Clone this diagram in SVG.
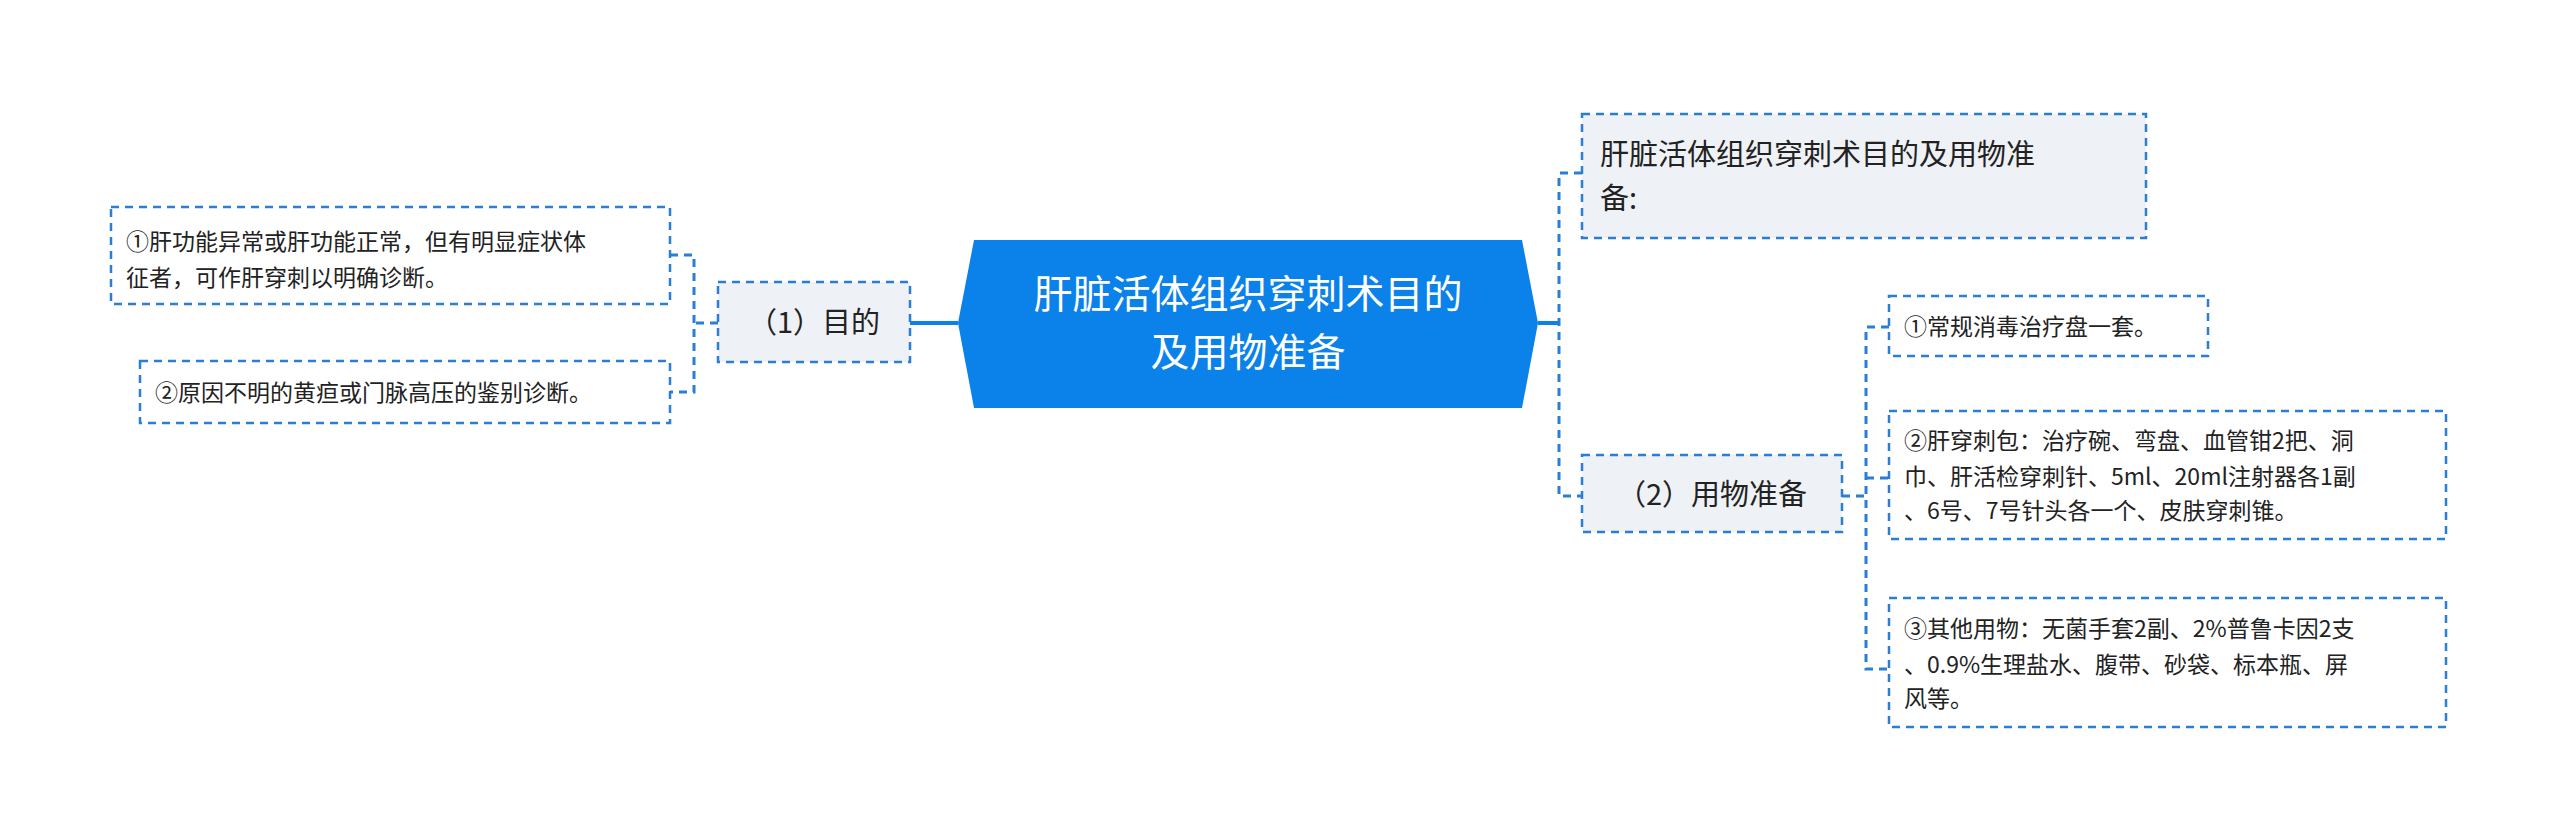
<svg xmlns="http://www.w3.org/2000/svg" width="2560" height="840" viewBox="0 0 2560 840">
<style>
text{font-family:"Noto Sans CJK SC","Liberation Sans",sans-serif;fill:#222}
.box{stroke:#2a7ed3;stroke-width:2.5;stroke-dasharray:8 6}
.l1{fill:#eef1f5}
.leaf{fill:#fff}
.con{fill:none;stroke:#2a7ed3;stroke-width:3;stroke-dasharray:8 6}
.t1{font-size:29px}
.t2{font-size:23px}
</style>
<rect width="2560" height="840" fill="#fff"/>
<g id="connectors">
<line x1="910" y1="323" x2="958" y2="323" stroke="#0b82ea" stroke-width="4"/>
<line x1="1538" y1="323" x2="1559" y2="323" stroke="#0b82ea" stroke-width="4"/>
<path class="con" d="M718 323 H694 M670 255 H694 V392 H670"/>
<path class="con" d="M1582 173 H1559 V496 H1582"/>
<path class="con" d="M1842 496 H1866 M1889 327 H1866 V669 H1889 M1866 478 H1889"/>
</g>
<g id="center">
<polygon points="958,323 974,240 1522,240 1538,323 1522,408 974,408" fill="#0b82ea"/>
<text x="1248" y="308" text-anchor="middle" font-size="39" style="fill:#fff">肝脏活体组织穿刺术目的</text>
<text x="1248" y="366" text-anchor="middle" font-size="39" style="fill:#fff">及用物准备</text>
</g>
<g id="n-mudi">
<rect class="box l1" x="718" y="282" width="192" height="80"/>
<text class="t1" x="814" y="333" text-anchor="middle">（1）目的</text>
</g>
<g id="n-left1">
<rect class="box leaf" x="111" y="207" width="559" height="97"/>
<text class="t2" x="126" y="250">①肝功能异常或肝功能正常，但有明显症状体</text>
<text class="t2" x="126" y="286">征者，可作肝穿刺以明确诊断。</text>
</g>
<g id="n-left2">
<rect class="box leaf" x="140" y="361" width="530" height="62"/>
<text class="t2" x="155" y="401">②原因不明的黄疸或门脉高压的鉴别诊断。</text>
</g>
<g id="n-title">
<rect class="box l1" x="1582" y="114" width="564" height="124"/>
<text class="t1" x="1600" y="165">肝脏活体组织穿刺术目的及用物准</text>
<text class="t1" x="1600" y="209">备:</text>
</g>
<g id="n-yongwu">
<rect class="box l1" x="1582" y="455" width="260" height="77"/>
<text class="t1" x="1712" y="505" text-anchor="middle">（2）用物准备</text>
</g>
<g id="n-a">
<rect class="box leaf" x="1889" y="296" width="319" height="60"/>
<text class="t2" x="1904" y="335">①常规消毒治疗盘一套。</text>
</g>
<g id="n-b">
<rect class="box leaf" x="1889" y="411" width="557" height="128"/>
<text class="t2" x="1904" y="449">②肝穿刺包：治疗碗、弯盘、血管钳2把、洞</text>
<text class="t2" x="1904" y="485">巾、肝活检穿刺针、5ml、20ml注射器各1副</text>
<text class="t2" x="1904" y="519">、6号、7号针头各一个、皮肤穿刺锥。</text>
</g>
<g id="n-c">
<rect class="box leaf" x="1889" y="598" width="557" height="129"/>
<text class="t2" x="1904" y="637">③其他用物：无菌手套2副、2%普鲁卡因2支</text>
<text class="t2" x="1904" y="673">、0.9%生理盐水、腹带、砂袋、标本瓶、屏</text>
<text class="t2" x="1904" y="707">风等。</text>
</g>
</svg>
